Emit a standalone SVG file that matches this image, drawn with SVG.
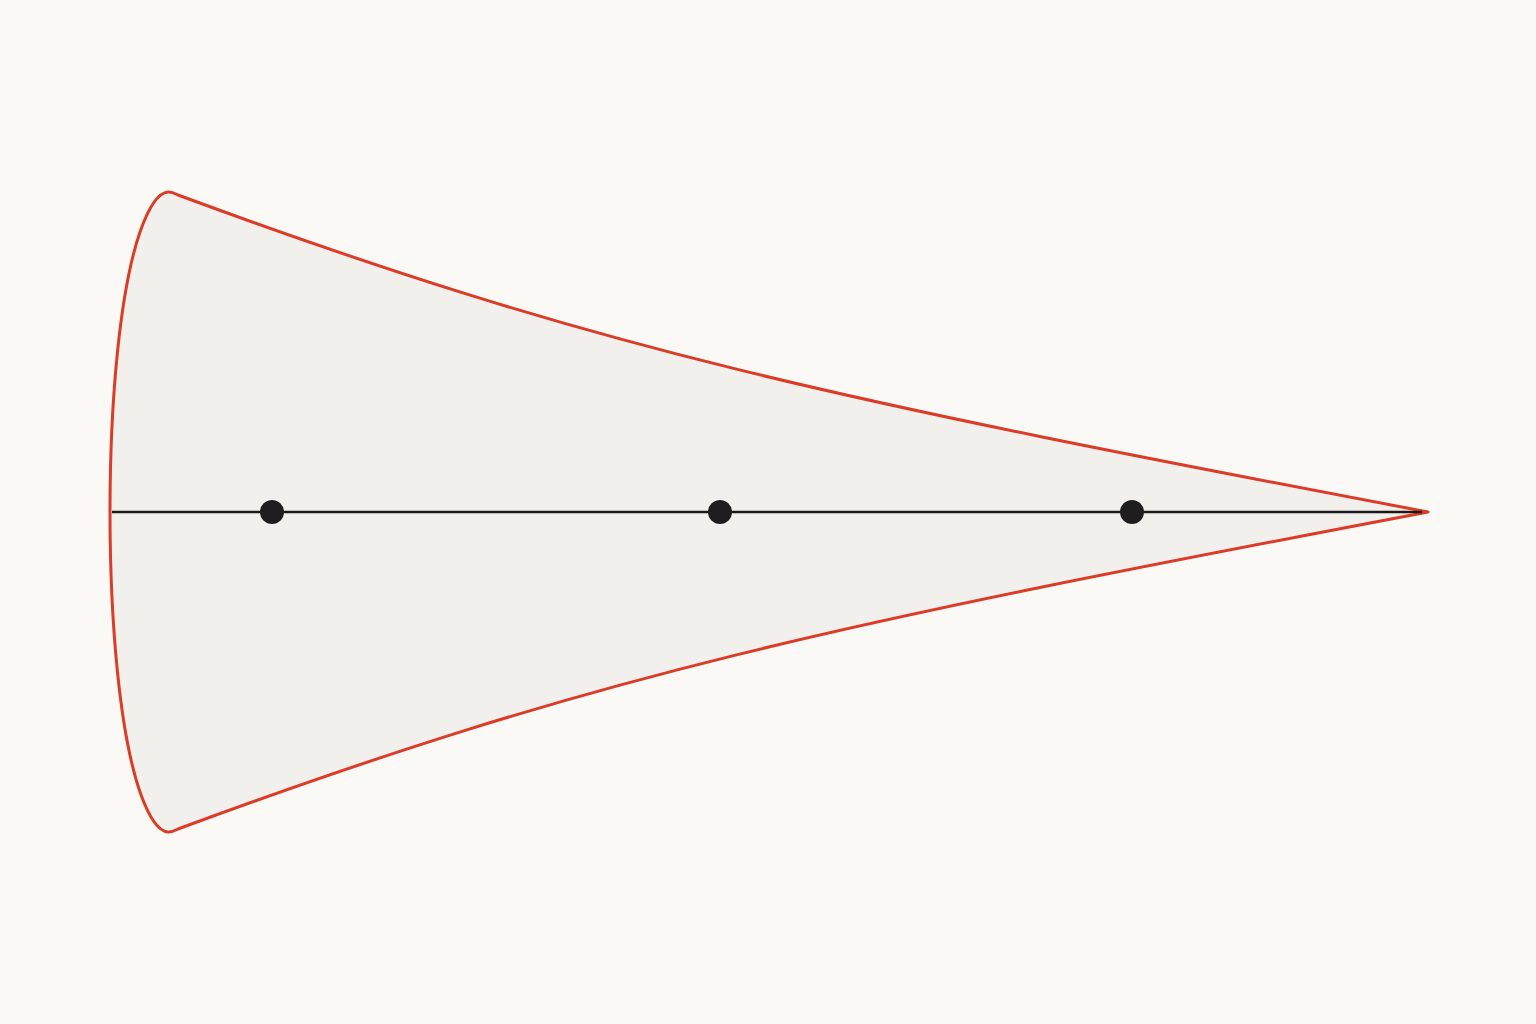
<svg xmlns="http://www.w3.org/2000/svg" width="1536" height="1024" viewBox="0 0 1536 1024">
<style>
.shape{fill:#f2f0ec;stroke:#dc3b27;stroke-width:3;stroke-linejoin:round}
.axis{stroke:#1a1a1a;stroke-width:2.5;fill:none}
.dot{fill:#1e1e1e}
</style>
<rect width="1536" height="1024" fill="#fbf9f5"/>
<g id="cone">
<path class="shape" d="M110,512 C110,400 120,290 140,232 C147,212 156,193 168,192 C172,191.7 175,193.5 178,195 C598,350 828,398 1428,512 C828,626 598,674 178,829 C175,830.5 172,832.3 168,832 C156,831 147,812 140,792 C120,734 110,624 110,512 Z"/>
</g>
<g id="connectors">
<line class="axis" x1="112" y1="512" x2="1422" y2="512"/>
</g>
<g id="node1"><circle class="dot" cx="272" cy="512" r="12"/></g>
<g id="node2"><circle class="dot" cx="720" cy="512" r="12"/></g>
<g id="node3"><circle class="dot" cx="1132" cy="512" r="12"/></g>
</svg>
